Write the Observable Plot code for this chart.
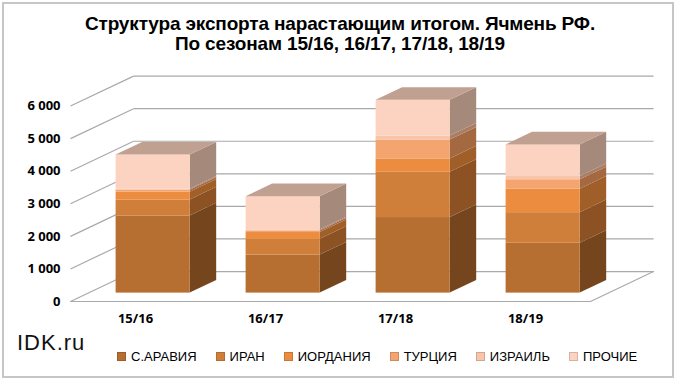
<!DOCTYPE html>
<html><head><meta charset="utf-8">
<script src="https://cdn.jsdelivr.net/npm/d3@7"></script>
<script src="https://cdn.jsdelivr.net/npm/@observablehq/plot@0.6"></script>
<style>
body{margin:0;background:#fff;}
#wrap{position:relative;width:680px;height:384px;overflow:hidden;font-family:Arial,"Liberation Sans",sans-serif;background:#fff;}
#frame{position:absolute;left:2px;top:2px;width:668px;height:372px;border:2px solid #c6c6c6;}
#title{position:absolute;left:0;top:14px;width:680px;text-align:center;font-family:Arial,"Liberation Sans",sans-serif;font-weight:bold;font-size:19px;line-height:20px;letter-spacing:-0.15px;color:#000;}
#chart{position:absolute;left:0;top:0;}
#idk{position:absolute;left:17px;top:330px;font-size:22px;letter-spacing:1px;color:#111;}
#legend{position:absolute;top:349px;left:117px;display:flex;gap:19px;font-family:Arial,"Liberation Sans",sans-serif;font-size:13px;color:#000;}
#legend .it{display:flex;align-items:center;}
#legend .sw{width:7px;height:7px;margin-right:5px;border:1px solid rgba(0,0,0,0.15);}
</style></head>
<body>
<div id="wrap">
  <div id="frame"></div>
  <div id="chart"></div>
  <div id="title">Структура экспорта нарастающим итогом. Ячмень РФ.<br>По сезонам 15/16, 16/17, 17/18, 18/19</div>
  <div id="idk">IDK.ru</div>
  <div id="legend"></div>
</div>
<script>
const seasons = ["15/16", "16/17", "17/18", "18/19"];
const countries = ["С.АРАВИЯ", "ИРАН", "ИОРДАНИЯ", "ТУРЦИЯ", "ИЗРАИЛЬ", "ПРОЧИЕ"];
const saudi  = [2370, 1170, 2320, 1530];
const iran   = [490, 480, 1390, 940];
const jordan = [240, 210, 410, 720];
const turkey = [60, 50, 580, 290];
const israel = [30, 30, 120, 100];
const others = [1050, 1020, 1100, 970];
const yTicks = [0, 1000, 2000, 3000, 4000, 5000, 6000];
const yTickLabels = ["0", "1 000", "2 000", "3 000", "4 000", "5 000", "6 000"];
const frontColors = ["#B76F31", "#D07F3A", "#EB8C3E", "#F4A46E", "#F8C4AA", "#FBD3C0"];
const sideColors  = ["#75461E", "#8C5223", "#A05F28", "#A56941", "#AA7D64", "#A58A7C"];
const topColor = "#C0A091";

const series = [saudi, iran, jordan, turkey, israel, others];

// pseudo-3D geometry (depth vector in data units)
const dU = 0.485, dV = 920;
const fFront = 0.28, fBack = 0.70, hw = 0.285;

const segs = [];
seasons.forEach((s, i) => {
  let cum = 0;
  series.forEach((arr, k) => {
    segs.push({season: s, i, k, lo: cum, hi: cum + arr[i]});
    cum += arr[i];
  });
});
const totals = seasons.map((s, i) => d3.sum(series, a => a[i]));

const bx = i => i + 0.5 + fFront * dU;
const sidePts = [];
segs.forEach((g, n) => {
  const xr = bx(g.i) + hw;
  sidePts.push({key: n, x: xr, lo: g.lo + fFront * dV, hi: g.hi + fFront * dV, color: sideColors[g.k]});
  sidePts.push({key: n, x: xr + (fBack - fFront) * dU, lo: g.lo + fBack * dV, hi: g.hi + fBack * dV, color: sideColors[g.k]});
});
const topPts = [];
totals.forEach((t, i) => {
  const xl = bx(i) - hw, xr = bx(i) + hw, w = (fBack - fFront) * dU;
  const a = t + fFront * dV, b = t + fBack * dV;
  topPts.push({key: i, x: xl, lo: a, hi: a});
  topPts.push({key: i, x: xl + w, lo: a, hi: b});
  topPts.push({key: i, x: xr, lo: a, hi: b});
  topPts.push({key: i, x: xr + w, lo: b, hi: b});
});
const nCat = seasons.length;
const floorPts = [[0, 0], [nCat, 0], [nCat + dU, dV]];
const grid = "#a9a9a9";

const plot = Plot.plot({
  width: 680, height: 384,
  marginLeft: 70, marginRight: 25, marginTop: 73, marginBottom: 83,
  x: {type: "linear", domain: [0, 4.5], axis: null},
  y: {domain: [0, 7000], axis: null},
  color: {type: "identity"},
  style: {background: "transparent"},
  marks: [
    Plot.link(yTicks, {x1: () => 0, y1: d => d, x2: () => dU, y2: d => d + dV, stroke: grid, strokeWidth: 1.2}),
    Plot.link(yTicks, {x1: () => dU, y1: d => d + dV, x2: () => nCat + dU, y2: d => d + dV, stroke: grid, strokeWidth: 1.2}),
    Plot.line(floorPts, {x: d => d[0], y: d => d[1], stroke: grid, strokeWidth: 1.2}),
    Plot.area(sidePts, {x1: "x", y1: "lo", y2: "hi", z: "key", fill: "color", curve: "linear"}),
    Plot.rect(segs, {x1: d => bx(d.i) - hw, x2: d => bx(d.i) + hw, y1: d => d.lo + fFront * dV, y2: d => d.hi + fFront * dV, fill: d => frontColors[d.k]}),
    Plot.area(topPts, {x1: "x", y1: "lo", y2: "hi", z: "key", fill: () => topColor, curve: "linear"}),
    Plot.text(yTicks, {x: () => 0, y: d => d, text: (d, i) => yTickLabels[i], dx: -10, textAnchor: "end", fontWeight: "bold", fontSize: 13, fill: "#000"}),
    Plot.text(seasons, {x: (d, i) => i + 0.5, y: () => 0, text: d => d, dy: 17, fontWeight: "bold", fontSize: 13, fill: "#000"})
  ]
});
document.getElementById("chart").appendChild(plot);

const leg = document.getElementById("legend");
countries.forEach((c, k) => {
  const it = document.createElement("div"); it.className = "it";
  const sw = document.createElement("div"); sw.className = "sw"; sw.style.background = frontColors[k];
  const tx = document.createElement("span"); tx.textContent = c;
  it.appendChild(sw); it.appendChild(tx); leg.appendChild(it);
});
</script>
</body></html>
